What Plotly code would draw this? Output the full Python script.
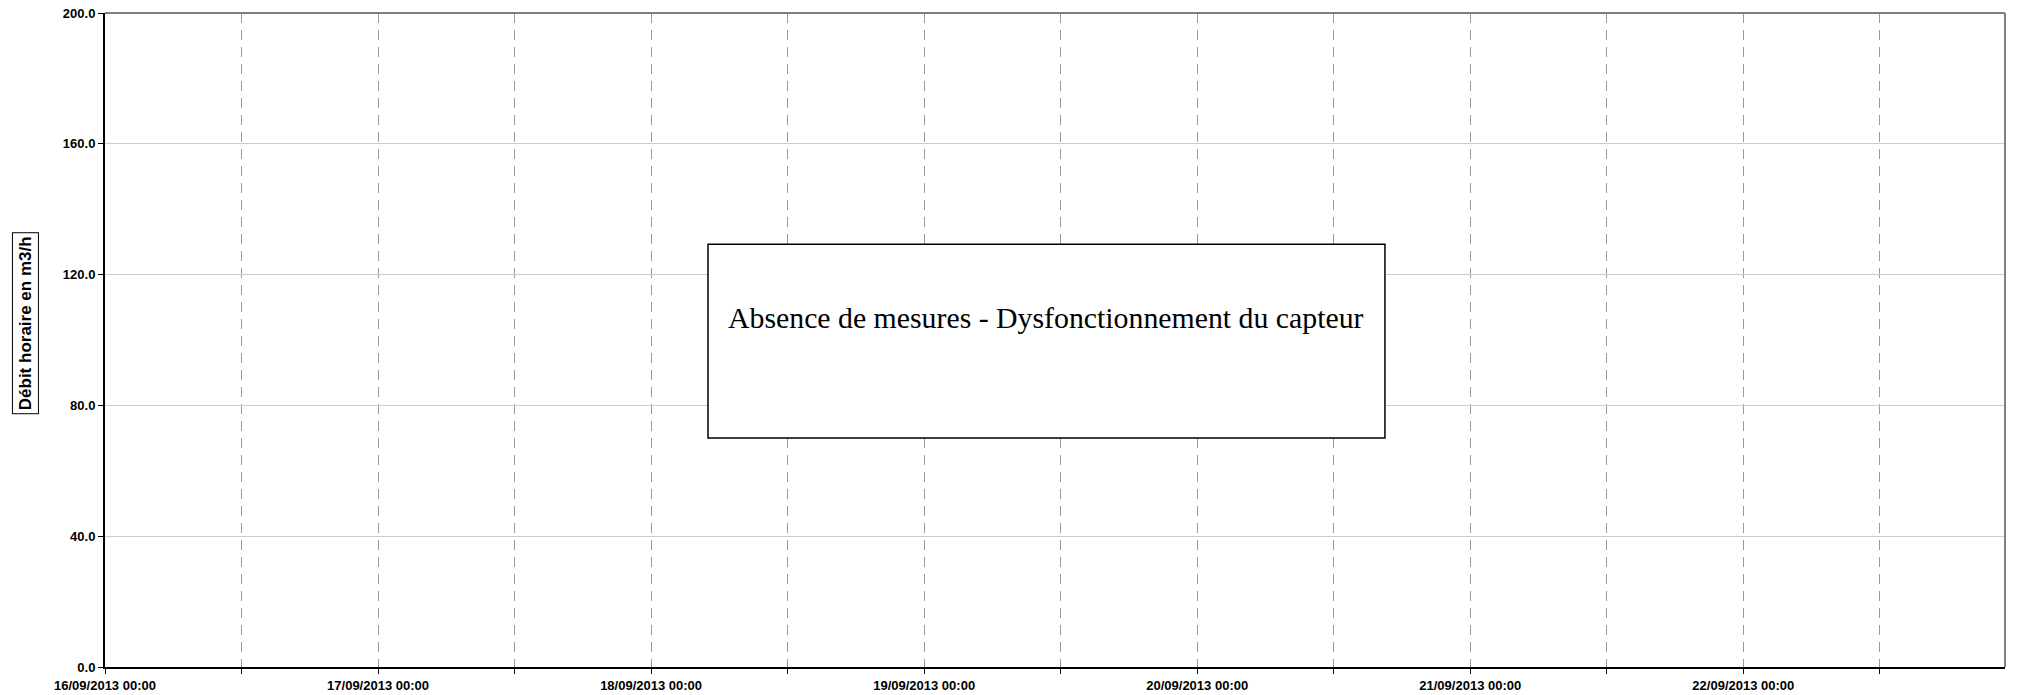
import pandas as pd
import plotly.graph_objects as go

# Hourly flow series for the week: no measurement was recorded (sensor fault)
HOURS = pd.date_range("2013-09-16 00:00", "2013-09-22 23:00", freq="h")
DEBIT = [None] * len(HOURS)

# Axis ticks
X_TICKS = pd.date_range("2013-09-16 00:00", "2013-09-22 12:00", freq="12h")
DAY_LABELS = ["16/09/2013 00:00", "17/09/2013 00:00", "18/09/2013 00:00",
              "19/09/2013 00:00", "20/09/2013 00:00", "21/09/2013 00:00",
              "22/09/2013 00:00"]
Y_TICKS = [0, 40, 80, 120, 160, 200]

Y_TITLE = "Débit horaire en m3/h"
MESSAGE = "Absence de mesures - Dysfonctionnement du capteur"

tick_text = []
for label in DAY_LABELS:
    tick_text += [label, ""]
tick_text = tick_text[:len(X_TICKS)]

fig = go.Figure()
fig.add_trace(go.Scatter(x=HOURS, y=DEBIT, mode="lines",
                         line=dict(color="#000080", width=1.5),
                         showlegend=False, hoverinfo="skip"))

font_sans = "Liberation Sans, Arial, sans-serif"

fig.update_layout(
    width=2019, height=695,
    margin=dict(l=105, r=14, t=13, b=28),
    paper_bgcolor="white", plot_bgcolor="white",
    showlegend=False,
    xaxis=dict(
        type="date",
        range=[HOURS[0], HOURS[-1]],
        automargin=False,
        tickmode="array", tickvals=X_TICKS, ticktext=tick_text,
        tickfont=dict(family=font_sans, size=13, color="black", weight="bold"),
        ticks="outside", ticklen=5, tickcolor="black", tickwidth=1,
        showline=True, linecolor="black", linewidth=2,
        showgrid=True, gridcolor="#9a9a9a", gridwidth=1, griddash="10px,7px",
        zeroline=False,
    ),
    yaxis=dict(
        range=[0, 200],
        automargin=False,
        tickmode="array", tickvals=Y_TICKS, tickformat=".1f",
        tickfont=dict(family=font_sans, size=13, color="black", weight="bold"),
        ticks="outside", ticklen=5, tickcolor="black", tickwidth=1,
        showline=True, linecolor="black", linewidth=2,
        showgrid=True, gridcolor="#cccccc", gridwidth=1,
        zeroline=False,
    ),
)

# Top and right frame of the plot area
fig.add_shape(type="line", xref="paper", yref="paper", x0=0, x1=1, y0=1, y1=1,
              line=dict(color="#808080", width=2))
fig.add_shape(type="line", xref="paper", yref="paper", x0=1, x1=1, y0=0, y1=1,
              line=dict(color="#808080", width=2))

# Message box over the missing period
fig.add_shape(type="rect", xref="x", yref="y",
              x0="2013-09-18 05:00", x1="2013-09-20 16:30", y0=70, y1=129.3,
              line=dict(color="black", width=1.5), fillcolor="white", layer="above")
fig.add_annotation(xref="x", yref="y", x="2013-09-19 10:45", y=107,
                   text=MESSAGE, showarrow=False,
                   xanchor="center", yanchor="middle",
                   font=dict(family="Liberation Serif, Times New Roman, serif",
                             size=29.8, color="black"))

# Boxed y-axis title
fig.add_annotation(xref="paper", yref="paper", x=-0.0418, y=0.525,
                   text="<b>" + Y_TITLE + "</b>", textangle=-90, showarrow=False,
                   xanchor="center", yanchor="middle",
                   font=dict(family=font_sans, size=17, color="black"),
                   bordercolor="black", borderwidth=1, borderpad=3,
                   bgcolor="white")

fig.write_html("out.html")
